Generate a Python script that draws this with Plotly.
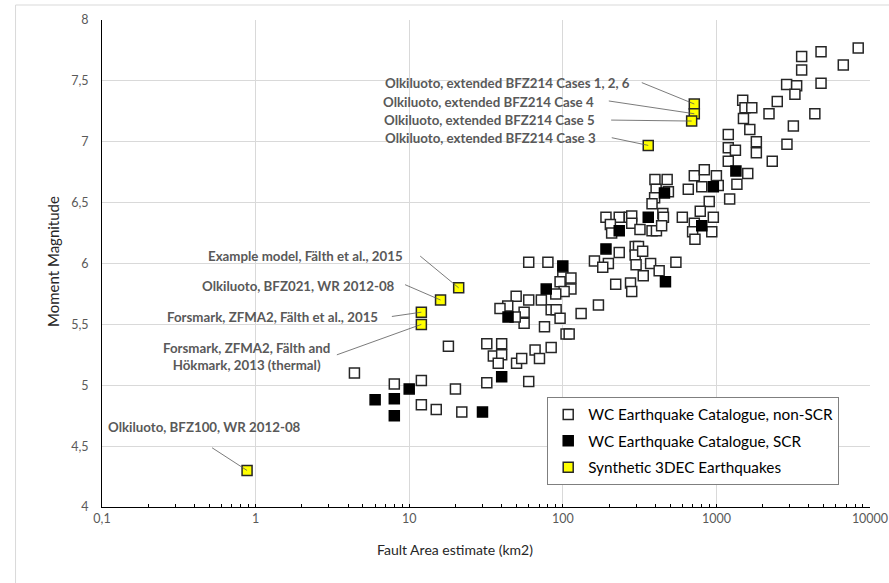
import math
import plotly.graph_objects as go

# WC Earthquake Catalogue, non-SCR events: fault area (km2) and moment magnitude
non_scr_area = [
    4.4, 8.0, 12.0, 12.0, 15.0, 18.0, 20.0, 22.0, 32.0, 32.0, 40.0, 35.3, 40.0, 38.0,
    50.0, 54.0, 66.0, 70.5, 60.0, 84.0, 76.0, 105.0, 110.0, 60.0, 80.0, 100.0, 96.0,
    113.0, 113.0, 102.0, 90.0, 72.5, 60.0, 49.7, 43.8, 39.0, 56.0, 56.0, 49.0, 84.0,
    90.5, 96.0, 131.6, 170.6, 160.7, 198.0, 182.0, 233.0, 221.0, 191.0, 233.0, 204.0,
    208.0, 271.0, 281.0, 281.0, 318.0, 381.0, 407.0, 398.0, 478.0, 405.0, 487.0, 396.0,
    381.0, 448.0, 452.0, 440.0, 296.0, 311.0, 296.0, 331.0, 300.0, 373.0, 545.0, 334.0,
    424.0, 276.0, 281.0, 600.0, 656.0, 718.0, 834.0, 1000.0, 803.0, 1028.0, 898.0,
    785.0, 955.0, 718.0, 700.0, 725.0, 933.0, 1195.0, 1195.0, 1195.0, 1360.0, 1220.0,
    1330.0, 1820.0, 1820.0, 1600.0, 1483.0, 1535.0, 1700.0, 1500.0, 1650.0, 2200.0,
    2490.0, 2866.0, 3330.0, 3245.0, 3590.0, 3590.0, 4800.0, 4800.0, 6700.0, 8380.0,
    4375.0, 3170.0, 2880.0, 2310.0,
]
non_scr_mag = [
    5.10, 5.01, 5.04, 4.84, 4.80, 5.32, 4.97, 4.78, 5.02, 5.34, 5.34, 5.24, 5.25, 5.18,
    5.18, 5.22, 5.29, 5.22, 5.03, 5.31, 5.48, 5.42, 5.42, 6.01, 6.01, 5.89, 5.85,
    5.88, 5.79, 5.77, 5.75, 5.70, 5.70, 5.73, 5.65, 5.63, 5.60, 5.51, 5.56, 5.62,
    5.62, 5.55, 5.59, 5.66, 6.02, 6.00, 5.97, 6.09, 5.83, 6.38, 6.38, 6.32,
    6.25, 6.38, 6.39, 6.33, 6.28, 6.27, 6.27, 6.69, 6.69, 6.61, 6.59, 6.54,
    6.49, 6.41, 6.38, 6.31, 6.14, 6.14, 6.07, 6.10, 5.99, 6.00, 6.01, 5.90,
    5.94, 5.84, 5.77, 6.38, 6.61, 6.72, 6.77, 6.72, 6.63, 6.64, 6.51,
    6.43, 6.38, 6.33, 6.26, 6.20, 6.26, 7.06, 6.95, 6.84, 6.65, 6.53,
    6.93, 7.00, 6.91, 6.74, 7.34, 7.28, 7.28, 7.19, 7.10, 7.23,
    7.33, 7.47, 7.46, 7.39, 7.70, 7.59, 7.74, 7.48, 7.63, 7.77,
    7.23, 7.13, 6.98, 6.84,
]

# WC Earthquake Catalogue, SCR events
scr_area = [6.0, 8.0, 8.0, 10.0, 30.0, 40.0, 44.0, 78.0, 100.0, 191.0, 233.0, 360.0,
            459.0, 466.0, 803.0, 955.0, 1340.0]
scr_mag = [4.88, 4.89, 4.75, 4.97, 4.78, 5.07, 5.56, 5.79, 5.98, 6.12, 6.27, 6.38,
           6.58, 5.85, 6.31, 6.63, 6.76]

# Synthetic 3DEC earthquakes and their labels
synth_area = [718.0, 718.0, 690.0, 360.0, 21.0, 16.0, 12.0, 12.0, 0.88]
synth_mag = [7.31, 7.23, 7.17, 6.97, 5.80, 5.70, 5.60, 5.50, 4.30]
synth_labels = [
    "Olkiluoto, extended BFZ214 Cases 1, 2, 6",
    "Olkiluoto, extended BFZ214 Case 4",
    "Olkiluoto, extended BFZ214 Case 5",
    "Olkiluoto, extended BFZ214 Case 3",
    "Example model, Fälth et al., 2015",
    "Olkiluoto, BFZ021, WR 2012-08",
    "Forsmark, ZFMA2, Fälth et al., 2015",
    "Forsmark, ZFMA2, Fälth and<br>Hökmark, 2013 (thermal)",
    "Olkiluoto, BFZ100, WR 2012-08",
]

# Axis ticks
x_tick_vals = [0.1, 1, 10, 100, 1000, 10000]
x_tick_labels = ["0,1", "1", "10", "100", "1000", "10000"]
y_tick_vals = [4, 4.5, 5, 5.5, 6, 6.5, 7, 7.5, 8]
y_tick_labels = ["4", "4,5", "5", "5,5", "6", "6,5", "7", "7,5", "8"]

FONT = "Lato, 'Liberation Sans', sans-serif"
LABEL_GREY = "#595959"

# Label placement: (text x-shift, text y-shift, anchor, leader tail dx, leader tail dy) in pixels
label_layout = [
    (-62, 21.5, "right", -54, -22),
    (-98, 12, "right", -87, -13),
    (-95, 0.6, "right", -82, -1),
    (-50, 7.4, "right", -38, -8),
    (-53.5, 31.4, "right", -40, -33),
    (-43.4, 13.9, "right", -37, -16),
    (-41, -4.9, "right", -31, 4.5),
    (-175, -32, "center", -86, 31),
    (56, 43.4, "right", -36.5, -23.7),
]

fig = go.Figure()

marker_line = dict(color="#262626", width=1.5)
fig.add_trace(go.Scatter(
    x=non_scr_area, y=non_scr_mag, mode="markers",
    name="WC Earthquake Catalogue, non-SCR", legendgroup="a",
    marker=dict(symbol="square", size=10, color="white", line=marker_line),
))
fig.add_trace(go.Scatter(
    x=scr_area, y=scr_mag, mode="markers",
    name="WC Earthquake Catalogue, SCR", legendgroup="b",
    marker=dict(symbol="square", size=10, color="black", line=dict(color="black", width=1.5)),
))
fig.add_trace(go.Scatter(
    x=synth_area, y=synth_mag, mode="markers",
    name="Synthetic 3DEC Earthquakes", legendgroup="c",
    marker=dict(symbol="square", size=10, color="#FFFF00", line=marker_line),
))

annotations = []
for xa, ym, text, (xs, ys, anchor, tdx, tdy) in zip(synth_area, synth_mag, synth_labels, label_layout):
    lx = math.log10(xa)
    annotations.append(dict(
        x=lx, y=ym, xref="x", yref="y", text="", showarrow=True,
        ax=tdx, ay=tdy, arrowhead=0, arrowwidth=0.8, arrowcolor=LABEL_GREY,
        standoff=0, startstandoff=0,
    ))
    annotations.append(dict(
        x=lx, y=ym, xref="x", yref="y", text=text, showarrow=False,
        xanchor=anchor, yanchor="middle", xshift=xs, yshift=ys, align="center",
        font=dict(family=FONT, size=13.3, color=LABEL_GREY, weight="bold"),
    ))

# Axis titles
annotations.append(dict(
    x=(455 - 101.5) / 768.5, y=-0.0, xref="paper", yref="paper", yshift=-42,
    text="Fault Area estimate (km2)", showarrow=False, xanchor="center", yanchor="middle",
    font=dict(family=FONT, size=14, color="#262626"),
))
annotations.append(dict(
    x=0, y=(507 - 262) / 487, xref="paper", yref="paper", xshift=-49,
    text="Moment Magnitude", showarrow=False, textangle=-90, xanchor="center", yanchor="middle",
    font=dict(family=FONT, size=15, color="#262626"),
))

minor_vals = [m * 10 ** e for e in range(-1, 4) for m in range(2, 10)]

fig.update_layout(
    width=889, height=583,
    margin=dict(l=101.5, r=19, t=20, b=76, autoexpand=False),
    paper_bgcolor="white", plot_bgcolor="white",
    font=dict(family=FONT, color=LABEL_GREY),
    showlegend=True,
    legend=dict(
        x=(547 - 101.5) / 768.5, y=(507 - 397) / 487, xanchor="left", yanchor="top",
        bordercolor="#7f7f7f", borderwidth=1, bgcolor="white",
        font=dict(family=FONT, size=15.3, color="#000000"),
        traceorder="grouped", tracegroupgap=3.5, itemwidth=30,
    ),
    annotations=annotations,
    shapes=[dict(
        type="rect", xref="paper", yref="paper",
        x0=(15 - 101.5) / 768.5, x1=1.2, y0=-0.5, y1=(507 - 5) / 487,
        line=dict(color="#d9d9d9", width=1), layer="below",
    )],
)
fig.update_xaxes(
    type="log", range=[-1, 4], automargin=False,
    tickmode="array", tickvals=x_tick_vals, ticktext=x_tick_labels,
    showgrid=True, gridcolor="#d9d9d9", gridwidth=1,
    showline=True, linecolor="black", linewidth=1,
    ticks="inside", ticklen=3, tickcolor="black",
    minor=dict(tickmode="array", tickvals=minor_vals, ticks="inside", ticklen=3,
               tickcolor="black", showgrid=False),
    tickfont=dict(family=FONT, size=12.5, color=LABEL_GREY),
    zeroline=False,
)
fig.update_yaxes(
    range=[4, 8], automargin=False,
    tickmode="array", tickvals=y_tick_vals, ticktext=y_tick_labels,
    showgrid=True, gridcolor="#d9d9d9", gridwidth=1,
    showline=True, linecolor="black", linewidth=1,
    ticks="", ticklabelstandoff=10,
    tickfont=dict(family=FONT, size=12.5, color=LABEL_GREY),
    zeroline=False,
)

fig.write_html("out.html")
